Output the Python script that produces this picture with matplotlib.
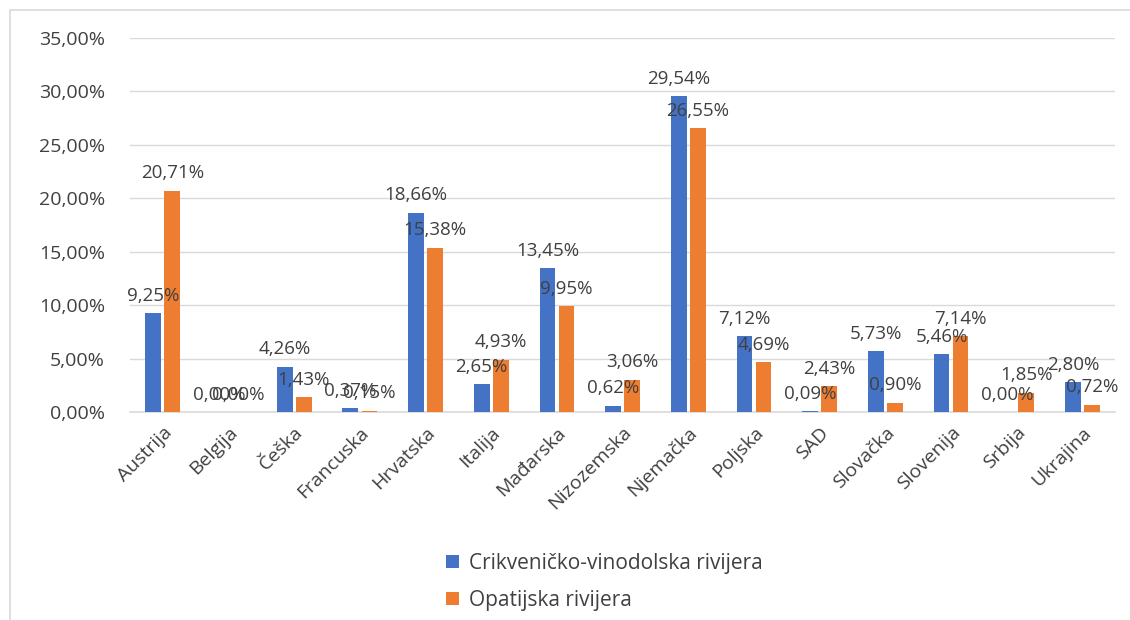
import numpy as np
import matplotlib.pyplot as plt
from matplotlib.patches import Rectangle

countries = ["Austrija", "Belgija", "Češka", "Francuska", "Hrvatska", "Italija",
             "Mađarska", "Nizozemska", "Njemačka", "Poljska", "SAD", "Slovačka",
             "Slovenija", "Srbija", "Ukrajina"]
crikvenica = [9.25, 0.00, 4.26, 0.37, 18.66, 2.65, 13.45, 0.62, 29.54, 7.12,
              0.09, 5.73, 5.46, 0.00, 2.80]
opatija = [20.71, 0.00, 1.43, 0.15, 15.38, 4.93, 9.95, 3.06, 26.55, 4.69,
           2.43, 0.90, 7.14, 1.85, 0.72]
series_names = ["Crikveničko-vinodolska rivijera", "Opatijska rivijera"]

BLUE = "#4472C4"
ORANGE = "#ED7D31"
TXT = "#404040"

plt.rcParams["font.family"] = ["Open Sans", "DejaVu Sans"]

fig = plt.figure(figsize=(11.3, 6.2), dpi=100)
ax = fig.add_axes([0.115, 0.335, 0.872, 0.604])

x = np.arange(len(countries))
w = 0.24
gap = 0.025
b1 = ax.bar(x - w / 2 - gap, crikvenica, w, color=BLUE, label=series_names[0], zorder=3)
b2 = ax.bar(x + w / 2 + gap, opatija, w, color=ORANGE, label=series_names[1], zorder=3)

# data labels sit above each bar, as in the source (they overlap where values are tiny)
for bars, vals in ((b1, crikvenica), (b2, opatija)):
    for rect, v in zip(bars, vals):
        ax.annotate(f"{v:.2f}%".replace(".", ","),
                    (rect.get_x() + rect.get_width() / 2, v),
                    textcoords="offset points", xytext=(0, 6),
                    ha="center", va="bottom", fontsize=13.5, color=TXT, zorder=4)

ax.set_ylim(0, 35)
ax.set_xlim(-0.5, len(countries) - 0.5)
ax.set_yticks(np.arange(0, 36, 5))
ax.set_yticklabels([f"{v:.2f}%".replace(".", ",") for v in np.arange(0, 36, 5)])
ax.set_xticks(x)
ax.set_xticklabels(countries, rotation=45, ha="right", rotation_mode="anchor")
ax.tick_params(axis="both", length=0, labelsize=14, colors=TXT)
ax.tick_params(axis="y", pad=18)
ax.tick_params(axis="x", pad=8)
ax.grid(axis="y", color="#d9d9d9", lw=1, zorder=0)
for s in ("top", "right", "left"):
    ax.spines[s].set_visible(False)
ax.spines["bottom"].set_color("#d9d9d9")
ax.spines["bottom"].set_linewidth(1.2)

fig.legend(handles=[b1, b2], loc="upper center", bbox_to_anchor=(0.535, 0.138),
           ncol=1, frameon=False, fontsize=15, labelcolor=TXT,
           handlelength=0.6, handleheight=0.6, handletextpad=0.5, labelspacing=0.75)

fig.patches.append(Rectangle((10 / 1130, -0.01), 1.2, 1 - 10 / 620 + 0.01,
                             transform=fig.transFigure, fill=False,
                             edgecolor="#d9d9d9", lw=1.2))

fig.savefig("out.png", dpi=100)
